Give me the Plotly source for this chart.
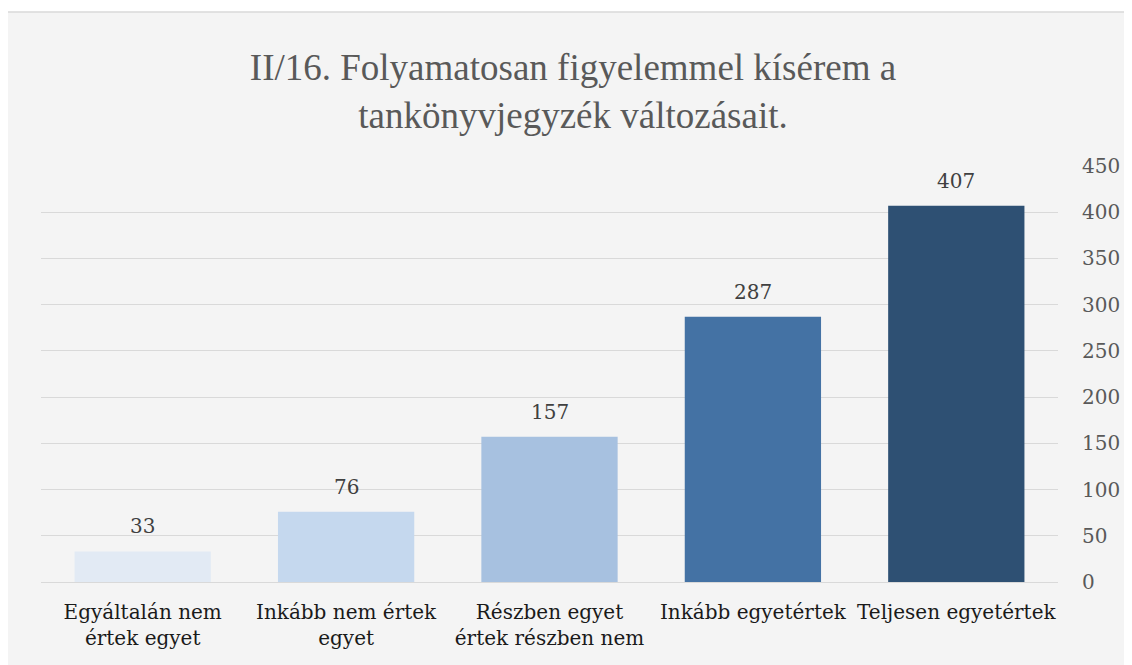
import plotly.graph_objects as go

categories = ["Egyáltalán nem<br>értek egyet", "Inkább nem értek<br>egyet", "Részben egyet<br>értek részben nem", "Inkább egyetértek", "Teljesen egyetértek"]
values = [33, 76, 157, 287, 407]
colors = ["#e2eaf4", "#c5d8ee", "#a7c1e0", "#4472a4", "#2e5073"]
title_text = "II/16. Folyamatosan figyelemmel kísérem a<br>tankönyvjegyzék változásait."

OFF = 8  # page body margin
W, H = 1132 - OFF, 665 - OFF
L, T = 41 - OFF, 166 - OFF
R = W - (1060 - OFF)
B = H - (582 - OFF)
pw = W - L - R
ph = H - T - B

fig = go.Figure(go.Bar(
    x=categories, y=values, marker=dict(color=colors, line=dict(width=0)),
    width=0.67, cliponaxis=False,
))

for c, v in zip(categories, values):
    fig.add_annotation(x=c, y=v, text=str(v), showarrow=False, yanchor="bottom", yshift=11,
                       font=dict(family="DejaVu Serif", size=20, color="#404040"))

fig.update_layout(
    width=W, height=H,
    margin=dict(l=L, r=R, t=T, b=B),
    paper_bgcolor="white", plot_bgcolor="rgba(0,0,0,0)",
    showlegend=False,
    title=dict(text=title_text, x=(573 - OFF) / W, xanchor="center", y=1 - (80 - OFF) / H, yanchor="middle",
               font=dict(family="Liberation Serif", size=37, color="#595959")),
    xaxis=dict(showgrid=False, showline=False, ticks="", ticklabelstandoff=16,
               tickfont=dict(family="DejaVu Serif", size=20, color="#1a1a1a")),
    yaxis=dict(range=[0, 450], dtick=50, side="right", showgrid=True, gridcolor="#d9d9d9", gridwidth=1,
               zeroline=True, zerolinecolor="#d9d9d9", zerolinewidth=1, showline=False,
               ticks="", ticklabelstandoff=23,
               tickfont=dict(family="DejaVu Serif", size=20, color="#595959")),
    shapes=[dict(type="rect", xref="paper", yref="paper", layer="below",
                 x0=(6 - 41) / pw, x1=(1145 - 41) / pw,
                 y0=-(700 - 582) / ph, y1=(582 - 12) / ph,
                 fillcolor="#f4f4f4", line=dict(color="#d9d9d9", width=1.5))],
)

fig.write_html("out.html")
